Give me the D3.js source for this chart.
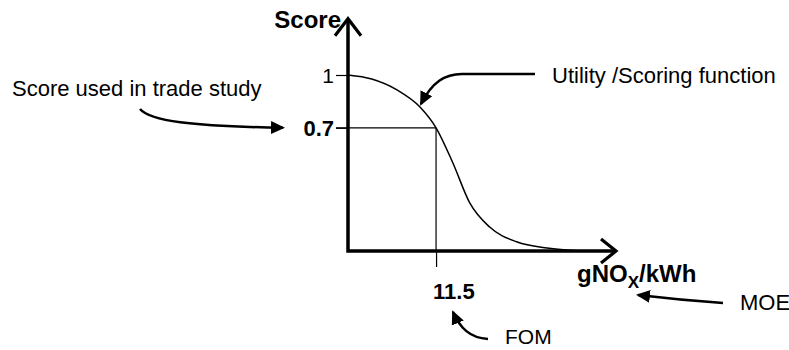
<!DOCTYPE html>
<html><head><meta charset="utf-8">
<script src="https://cdn.jsdelivr.net/npm/d3@7"></script>
<style>
html,body{margin:0;padding:0;background:#fff;}
svg{display:block;font-family:"Liberation Sans",Arial,sans-serif;}
</style>
</head><body>
<svg id="c" width="789" height="350"></svg>
<script>
// ---- data ----
const curveX = [0, 3.1, 6.4, 9.4, 11.5, 13.7, 15.9, 18.5, 22.1, 26.0, 30.3];
const curveY = [1, 0.977, 0.915, 0.818, 0.7, 0.50, 0.273, 0.136, 0.051, 0.017, 0];
const fomValue = 11.5;
const scoreValue = 0.7;
const yTickValues = [1, 0.7];
const yTickLabels = ["1", "0.7"];
const xTickValues = [11.5];
const xTickLabels = ["11.5"];
const xMax = 35, yMax = 1.32;

const svg = d3.select("#c");
svg.append("rect").attr("width",789).attr("height",350).attr("fill","#fff");

const x = d3.scaleLinear().domain([0, xMax]).range([348, 616]);
const y = d3.scaleLinear().domain([0, 1]).range([251, 75]);

// arrow marker
const defs = svg.append("defs");
defs.append("marker").attr("id","ah").attr("markerUnits","userSpaceOnUse")
  .attr("viewBox","0 -7 14 14").attr("refX",12).attr("refY",0)
  .attr("markerWidth",14).attr("markerHeight",14).attr("orient","auto")
  .append("path").attr("d","M0,-6.5L14,0L0,6.5Z").attr("fill","#000");

// y ticks
const yAxis = d3.axisLeft(y).tickValues(yTickValues).tickSize(12).tickFormat("");
const gy = svg.append("g").attr("transform",`translate(${x(0)},0)`).call(yAxis);
gy.select(".domain").remove();
gy.selectAll("line").attr("stroke","#000").attr("stroke-width",1.2);

// x ticks (below axis)
const xAxis = d3.axisBottom(x).tickValues(xTickValues).tickSize(16).tickFormat("");
const gx = svg.append("g").attr("transform",`translate(0,${y(0)})`).call(xAxis);
gx.select(".domain").remove();
gx.selectAll("line").attr("stroke","#000").attr("stroke-width",1.2);

// reference lines for FOM / score
svg.append("line").attr("x1",x(0)-12).attr("x2",x(fomValue))
  .attr("y1",y(scoreValue)).attr("y2",y(scoreValue)).attr("stroke","#000").attr("stroke-width",1.2);
svg.append("line").attr("x1",x(fomValue)).attr("x2",x(fomValue))
  .attr("y1",y(scoreValue)).attr("y2",y(0)).attr("stroke","#000").attr("stroke-width",1.2);

// curve
const pts = curveX.map((v,i)=>[v, curveY[i]]);
svg.append("path").attr("d", d3.line().x(d=>x(d[0])).y(d=>y(d[1])).curve(d3.curveMonotoneX)(pts))
  .attr("fill","none").attr("stroke","#000").attr("stroke-width",1.5);

// axes with arrow chevrons
const x0 = x(0), y0 = y(0), xT = x(xMax), yT = y(yMax);
svg.append("path").attr("d",`M${x0},${yT+1}L${x0},${y0}L${xT-1},${y0}`)
  .attr("fill","none").attr("stroke","#000").attr("stroke-width",3.5).attr("stroke-linejoin","miter");
svg.append("path").attr("d",`M${x0-13},${yT+17}L${x0},${yT}L${x0+13},${yT+17}`)
  .attr("fill","none").attr("stroke","#000").attr("stroke-width",3.2);
svg.append("path").attr("d",`M${xT-15},${y0-12}L${xT},${y0}L${xT-15},${y0+12}`)
  .attr("fill","none").attr("stroke","#000").attr("stroke-width",3.2);

// tick labels
yTickValues.forEach((v,i)=>{
  svg.append("text").attr("x", x(0)-14).attr("y", y(v)+8).attr("text-anchor","end")
    .attr("font-size", v===1 ? 21 : 22).attr("font-weight", v===1 ? "normal" : "bold")
    .text(yTickLabels[i]);
});
xTickValues.forEach((v,i)=>{
  svg.append("text").attr("x", x(v)-3).attr("y", y(0)+48)
    .attr("font-size",22).attr("font-weight","bold").text(xTickLabels[i]);
});

// axis titles
svg.append("text").attr("x",341).attr("y",28).attr("text-anchor","end")
  .attr("font-size",24).attr("font-weight","bold").text("Score");
const xt = svg.append("text").attr("x",577).attr("y",282).attr("font-size",24).attr("font-weight","bold");
xt.append("tspan").text("gNO");
xt.append("tspan").attr("font-size",17).attr("dy",6).text("X");
xt.append("tspan").attr("dy",-6).text("/kWh");

// annotations
const ann = (tx,ty,s,fs)=>svg.append("text").attr("x",tx).attr("y",ty).attr("font-size",fs||22).text(s);
ann(12,96,"Score used in trade study");
ann(552,83,"Utility /Scoring function");
ann(740,310,"MOE");
ann(505,344,"FOM",21);

const arrow = d => svg.append("path").attr("d",d).attr("fill","none").attr("stroke","#000")
  .attr("stroke-width",2.5).attr("marker-end","url(#ah)");
arrow(`M140,109C150,121 190,126 283,${y(scoreValue)}`);
arrow(`M535,74L462,74C445,74 432,82 421,104`);
arrow(`M723,303Q680,300 638,295`);
arrow(`M488,339C470,338 460,328 453,312`);
</script>
</body></html>
